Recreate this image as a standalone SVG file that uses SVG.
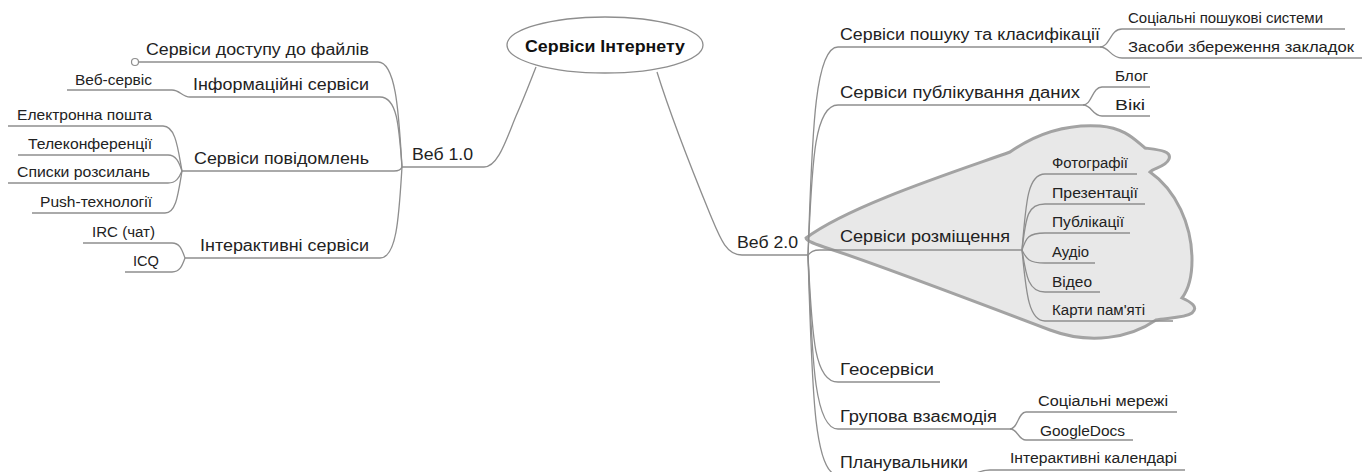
<svg xmlns="http://www.w3.org/2000/svg" width="1362" height="472" viewBox="0 0 1362 472">
  <style>
    .ln { fill: none; stroke: #8e8e8e; stroke-width: 1.3; }
    .t1 { font-family: "Liberation Sans", Arial, sans-serif; font-size: 16px; fill: #222; }
    .t2 { font-family: "Liberation Sans", Arial, sans-serif; font-size: 14px; fill: #222; }
    .root { font-family: "Liberation Sans", Arial, sans-serif; font-size: 16px; font-weight: bold; fill: #111; }
    .cloud { fill: #e8e8e8; stroke: #a3a3a3; stroke-width: 3; }
  </style>
  <rect width="1362" height="472" fill="#ffffff"/>

  <!-- highlight boundary around the hosting-services branch -->
  <path id="hosting-boundary" class="cloud" d="M806,238 C850,205 960,170 1010,152 C1040,131 1070,124 1100,126 C1125,128 1135,140 1145,148 C1160,150 1172,151 1169,159 C1166,167 1153,168 1150,172 C1176,190 1192,225 1192,260 C1192,279 1188,290 1182,298 C1191,302 1199,307 1192,313 C1185,318 1166,318 1156,320 C1130,338 1090,345 1050,330 C1000,311 870,262 830,249 C815,244 806,241 806,238 Z"/>

  <g id="connectors">
    <!-- root to the two generations -->
    <path class="ln" d="M536,67 C530,82 524,98 516,116 C506,140 498,167 484,167 H402"/>
    <path class="ln" d="M657,72 C672,120 692,170 710,214 C720,238 726,255 742,255 H808"/>

    <!-- Web 1.0 branches -->
    <path class="ln" d="M402,167 C399,120 397,62 378,62 H139"/>
    <circle cx="135" cy="62" r="3.5" fill="#fff" stroke="#8e8e8e" stroke-width="1.2"/>
    <path class="ln" d="M402,167 C399,125 397,97 380,97 H190 C182,97 180,90 172,90 H67"/>
    <path class="ln" d="M402,167 C401,170 399,171 394,171 H182"/>
    <path class="ln" d="M182,171 C178,150 176,126 163,126 H8"/>
    <path class="ln" d="M182,171 C179,162 176,155 168,155 H18"/>
    <path class="ln" d="M182,171 C179,178 176,183 168,183 H8"/>
    <path class="ln" d="M182,171 C178,195 176,213 165,213 H32"/>
    <path class="ln" d="M402,167 C399,215 397,258 380,258 H185"/>
    <path class="ln" d="M185,258 C182,250 180,243 172,243 H83"/>
    <path class="ln" d="M185,258 C182,266 180,272 172,272 H125"/>

    <!-- Web 2.0 branches -->
    <path class="ln" d="M808,255 C812,150 813,47 838,47 H1100"/>
    <path class="ln" d="M1100,47 C1110,47 1110,29 1122,29 H1345"/>
    <path class="ln" d="M1100,47 C1110,47 1110,58 1122,58 H1362"/>
    <path class="ln" d="M808,255 C812,170 813,105 838,105 H1083"/>
    <path class="ln" d="M1083,105 C1092,105 1092,87 1102,87 H1150"/>
    <path class="ln" d="M1083,105 C1092,105 1092,116 1102,116 H1150"/>
    <path class="ln" d="M808,255 C811,252 813,250 820,250 H1022"/>
    <path class="ln" d="M1022,250 C1026,200 1028,174 1045,174 H1137"/>
    <path class="ln" d="M1022,250 C1026,215 1028,204 1045,204 H1145"/>
    <path class="ln" d="M1022,250 C1026,238 1028,233 1045,233 H1130"/>
    <path class="ln" d="M1022,250 C1026,258 1028,263 1045,263 H1095"/>
    <path class="ln" d="M1022,250 C1026,275 1028,292 1045,292 H1100"/>
    <path class="ln" d="M1022,250 C1026,290 1028,321 1045,321 H1173"/>
    <path class="ln" d="M808,255 C812,330 813,382 838,382 H940"/>
    <path class="ln" d="M808,255 C812,350 813,429 838,429 H1010"/>
    <path class="ln" d="M1010,429 C1018,429 1018,412 1026,412 H1177"/>
    <path class="ln" d="M1010,429 C1018,429 1018,440 1026,440 H1133"/>
    <path class="ln" d="M808,255 C812,380 813,475 838,475 H968"/>
    <path class="ln" d="M968,475 C976,475 978,470 990,470 H1185"/>
  </g>

  <g id="root">
    <ellipse cx="605" cy="45" rx="98" ry="28" fill="#fff" stroke="#8e8e8e" stroke-width="1.3"/>
    <text class="root" x="525" y="52" textLength="160" lengthAdjust="spacingAndGlyphs">Сервіси Інтернету</text>
  </g>

  <g id="web1"><text class="t1" x="412" y="160" textLength="61" lengthAdjust="spacingAndGlyphs">Веб 1.0</text></g>
  <g id="files"><text class="t1" x="146" y="55" textLength="223" lengthAdjust="spacingAndGlyphs">Сервіси доступу до файлів</text></g>
  <g id="info"><text class="t1" x="193" y="90" textLength="176" lengthAdjust="spacingAndGlyphs">Інформаційні сервіси</text></g>
  <g id="webservice"><text class="t2" x="75" y="85" textLength="77" lengthAdjust="spacingAndGlyphs">Веб-сервіс</text></g>
  <g id="messages"><text class="t1" x="194" y="164" textLength="175" lengthAdjust="spacingAndGlyphs">Сервіси повідомлень</text></g>
  <g id="email"><text class="t2" x="17" y="120" textLength="135" lengthAdjust="spacingAndGlyphs">Електронна пошта</text></g>
  <g id="teleconf"><text class="t2" x="28" y="149" textLength="124" lengthAdjust="spacingAndGlyphs">Телеконференції</text></g>
  <g id="maillists"><text class="t2" x="17" y="177" textLength="133" lengthAdjust="spacingAndGlyphs">Списки розсилань</text></g>
  <g id="push"><text class="t2" x="40" y="207" textLength="112" lengthAdjust="spacingAndGlyphs">Push-технології</text></g>
  <g id="interactive"><text class="t1" x="200" y="251" textLength="169" lengthAdjust="spacingAndGlyphs">Інтерактивні сервіси</text></g>
  <g id="irc"><text class="t2" x="92" y="237" textLength="63" lengthAdjust="spacingAndGlyphs">IRC (чат)</text></g>
  <g id="icq"><text class="t2" x="133" y="266" textLength="26" lengthAdjust="spacingAndGlyphs">ICQ</text></g>

  <g id="web2"><text class="t1" x="737" y="248" textLength="61" lengthAdjust="spacingAndGlyphs">Веб 2.0</text></g>
  <g id="search"><text class="t1" x="840" y="40" textLength="260" lengthAdjust="spacingAndGlyphs">Сервіси пошуку та класифікації</text></g>
  <g id="socsearch"><text class="t2" x="1128" y="23" textLength="195" lengthAdjust="spacingAndGlyphs">Соціальні пошукові системи</text></g>
  <g id="bookmarks"><text class="t2" x="1128" y="52" textLength="226" lengthAdjust="spacingAndGlyphs">Засоби збереження закладок</text></g>
  <g id="publishing"><text class="t1" x="840" y="98" textLength="240" lengthAdjust="spacingAndGlyphs">Сервіси публікування даних</text></g>
  <g id="blog"><text class="t2" x="1115" y="81" textLength="33" lengthAdjust="spacingAndGlyphs">Блог</text></g>
  <g id="wiki"><text class="t2" x="1115" y="110" textLength="30" lengthAdjust="spacingAndGlyphs">Вікі</text></g>
  <g id="hosting"><text class="t1" x="840" y="242" textLength="170" lengthAdjust="spacingAndGlyphs">Сервіси розміщення</text></g>
  <g id="photos"><text class="t2" x="1052" y="168" textLength="76" lengthAdjust="spacingAndGlyphs">Фотографії</text></g>
  <g id="presentations"><text class="t2" x="1052" y="198" textLength="86" lengthAdjust="spacingAndGlyphs">Презентації</text></g>
  <g id="publications"><text class="t2" x="1052" y="227" textLength="72" lengthAdjust="spacingAndGlyphs">Публікації</text></g>
  <g id="audio"><text class="t2" x="1052" y="257" textLength="37" lengthAdjust="spacingAndGlyphs">Аудіо</text></g>
  <g id="video"><text class="t2" x="1052" y="287" textLength="40" lengthAdjust="spacingAndGlyphs">Відео</text></g>
  <g id="mindmaps"><text class="t2" x="1052" y="315" textLength="93" lengthAdjust="spacingAndGlyphs">Карти пам'яті</text></g>
  <g id="geo"><text class="t1" x="840" y="375" textLength="94" lengthAdjust="spacingAndGlyphs">Геосервіси</text></g>
  <g id="groupwork"><text class="t1" x="840" y="422" textLength="157" lengthAdjust="spacingAndGlyphs">Групова взаємодія</text></g>
  <g id="socnet"><text class="t2" x="1038" y="406" textLength="130" lengthAdjust="spacingAndGlyphs">Соціальні мережі</text></g>
  <g id="googledocs"><text class="t2" x="1040" y="436" textLength="85" lengthAdjust="spacingAndGlyphs">GoogleDocs</text></g>
  <g id="planners"><text class="t1" x="840" y="468" textLength="128" lengthAdjust="spacingAndGlyphs">Планувальники</text></g>
  <g id="calendars"><text class="t2" x="1010" y="463" textLength="167" lengthAdjust="spacingAndGlyphs">Інтерактивні календарі</text></g>
</svg>
